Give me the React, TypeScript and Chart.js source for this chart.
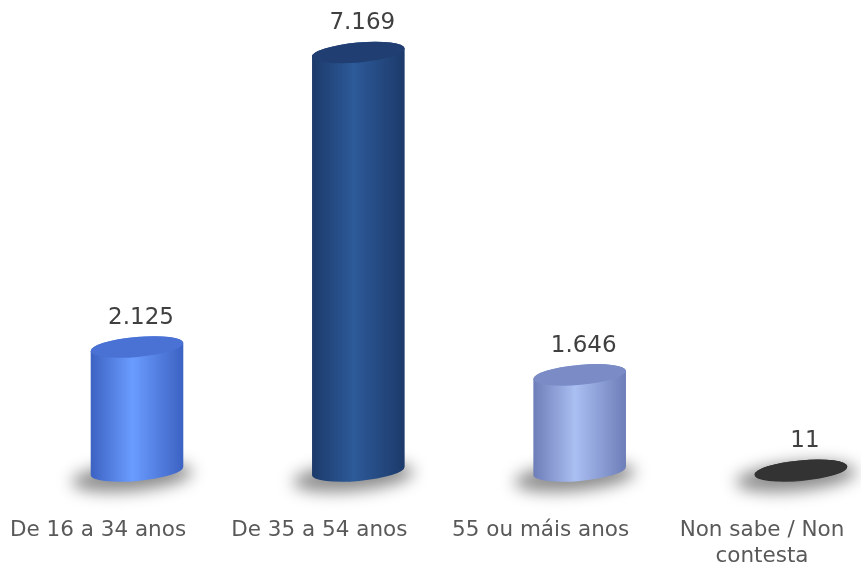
import React, { useEffect, useRef } from "react";
import { Chart, registerables } from "chart.js";

Chart.register(...registerables);

const categories: (string | string[])[] = [
  "De 16 a 34 anos",
  "De 35 a 54 anos",
  "55 ou máis anos",
  ["Non sabe / Non", "contesta"],
];
const values = [2125, 7169, 1646, 11];
const sideEdge = ["#3C62C2", "#1C3A6A", "#6D7DB8", "#2a2a2a"];
const sideMid = ["#6A9CFF", "#2D5A99", "#AABFF2", "#444444"];
const topColors = ["#4A72D4", "#203E72", "#7A8BC6", "#333333"];

const DEPTH = 39;
const fmt = (v: number) => v.toString().replace(/\B(?=(\d{3})+(?!\d))/g, ".");

const cylinderPlugin = {
  id: "cylinders",
  afterDatasetsDraw(chart: any) {
    const ctx: CanvasRenderingContext2D = chart.ctx;
    const meta = chart.getDatasetMeta(0);
    const els = meta.data.map((el: any) => el.getProps(["x", "y", "base", "width"], true));
    const b = 10;
    const rot = -0.09;
    // shadows
    els.forEach((p: any) => {
      const cx = p.x + DEPTH;
      const a = p.width / 2;
      ctx.save();
      ctx.filter = "blur(8px)";
      ctx.fillStyle = "rgba(0,0,0,0.45)";
      ctx.beginPath();
      ctx.ellipse(cx - 5, p.base + 6, a + 14, b + 4, rot, 0, Math.PI * 2);
      ctx.fill();
      ctx.restore();
    });
    els.forEach((p: any, i: number) => {
      const cx = p.x + DEPTH;
      const a = p.width / 2;
      const top = Math.min(p.y, p.base);
      const base = p.base;
      ctx.save();
      const g = ctx.createLinearGradient(cx - a, 0, cx + a, 0);
      g.addColorStop(0, sideEdge[i]);
      g.addColorStop(0.45, sideMid[i]);
      g.addColorStop(1, sideEdge[i]);
      ctx.fillStyle = g;
      ctx.beginPath();
      ctx.ellipse(cx, top, a, b, rot, Math.PI, Math.PI, false);
      ctx.ellipse(cx, base, a, b, rot, Math.PI, 0, true);
      ctx.ellipse(cx, top, a, b, rot, 0, -Math.PI, true);
      ctx.closePath();
      ctx.fill();
      ctx.fillStyle = topColors[i];
      ctx.beginPath();
      ctx.ellipse(cx, top, a, b, rot, 0, Math.PI * 2);
      ctx.fill();
      ctx.restore();
      // value label
      ctx.save();
      ctx.font = "23px 'DejaVu Sans', Verdana, sans-serif";
      ctx.fillStyle = "#404040";
      ctx.textAlign = "center";
      ctx.textBaseline = "middle";
      ctx.fillText(fmt(values[i]), cx + 4, top - 29);
      ctx.restore();
    });
  },
};

export default function App() {
  const ref = useRef<HTMLCanvasElement>(null);
  useEffect(() => {
    if (!ref.current) return;
    const chart = new Chart(ref.current, {
      type: "bar",
      data: {
        labels: categories as any,
        datasets: [
          {
            data: values,
            backgroundColor: "rgba(0,0,0,0)",
            borderWidth: 0,
            categoryPercentage: 1,
            barPercentage: 0.42,
          },
        ],
      },
      options: {
        responsive: false,
        animation: false,
        events: [],
        layout: { padding: { left: 98, right: 99, top: 4, bottom: 0 } },
        plugins: { legend: { display: false }, tooltip: { enabled: false } },
        scales: {
          x: {
            offset: false,
            grid: { display: false, drawTicks: false },
            border: { display: false },
            ticks: {
              padding: 47,
              maxRotation: 0,
              autoSkip: false,
              color: "#595959",
              font: { family: "'DejaVu Sans', Verdana, sans-serif", size: 21.5, lineHeight: 1.2 },
            },
            afterFit: (s: any) => {
              s.height = 91;
              s.paddingLeft = 0;
              s.paddingRight = 0;
            },
          },
          y: { display: false, min: 0, max: 8000 },
        },
      },
      plugins: [cylinderPlugin],
    });
    return () => chart.destroy();
  }, []);
  return (
    <div style={{ position: "fixed", left: 0, top: 0, width: 861, height: 562, background: "#fff" }}>
      <canvas ref={ref} width={861} height={562} style={{ display: "block" }} />
    </div>
  );
}
